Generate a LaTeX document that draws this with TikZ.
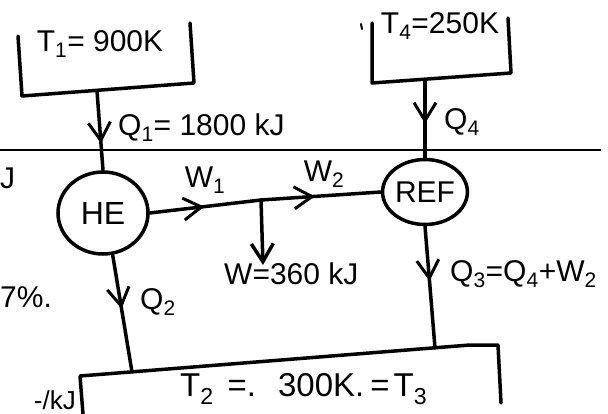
\documentclass[tikz,border=0pt]{standalone}
\usepackage{fontspec}
\setmainfont{Liberation Sans}
\usetikzlibrary{arrows.meta,decorations.markings,shapes.geometric}
\begin{document}
\begin{tikzpicture}[x=1pt,y=-1pt,
  ln/.style={line width=3.5pt, line cap=round, line join=round},
  lbl/.style={font=\fontsize{30}{34}\selectfont, inner sep=0pt},
  eng/.style={draw, ellipse, line width=3.5pt, inner sep=0pt},
  midV/.style={postaction={decorate}, decoration={markings, mark=at position #1 with {\arrow[line width=3pt]{Straight Barb[length=18pt,width=22pt]}}}},
  tipV/.style={-{Straight Barb[length=18pt,width=22pt]}}
]
\useasboundingbox (0,0) rectangle (608,414);
% page line
\draw[line width=1.5pt] (0,150) -- (601,150);
% reservoirs
\draw[ln] (18,36) -- (22,96) -- (194,83) -- (190,23);
\coordinate (t1b) at (97,91);
\node[lbl] (t1) at (100,44) {T\textsubscript{1}= 900K};
\draw[ln] (372,23) -- (372,83) -- (511,73) -- (508,18);
\draw[line width=2pt, line cap=round] (361,24) -- (362,29);
\coordinate (t4b) at (425,80);
\node[lbl] (t4) at (440,26) {T\textsubscript{4}=250K};
\draw[ln] (83,414) -- (80,376) -- (470,345) -- (498,345) -- (501,403);
\coordinate (q2e) at (132,372);
\coordinate (q3e) at (435,348);
\node[lbl, anchor=west, font=\fontsize{33}{37}\selectfont] (tb) at (180,389) {T\textsubscript{2}\hspace{14pt}=.\hspace{22pt}300K.\hspace{6pt}=\hspace{4pt}T\textsubscript{3}};
% engines
\node[eng, minimum width=90pt, minimum height=82pt, font=\fontsize{32}{36}\selectfont] (he) at (103,213) {HE};
\node[eng, minimum width=84pt, minimum height=65pt, font=\fontsize{30}{34}\selectfont] (ref) at (425,192) {REF};
\coordinate (j) at (261,200);
\coordinate (w) at (263,265);
% connectors
\draw[ln, midV=0.66] (t1b) -- (he.north);
\draw[ln, midV=0.56] (t4b) -- (ref.north);
\draw[ln, midV=0.46] (he.-77) -- (q2e);
\draw[ln, midV=0.45] (ref.south) -- (q3e);
\draw[ln, midV=0.49] (he.east) -- (j);
\draw[ln, midV=0.45] (j) -- (ref.west);
\draw[ln, tipV] (j) -- (w);
% labels
\node[lbl, anchor=west] (q1) at (118,128) {Q\textsubscript{1}= 1800 kJ};
\node[lbl, anchor=west] (q4) at (444,122) {Q\textsubscript{4}};
\node[lbl] (w1) at (205,180) {W\textsubscript{1}};
\node[lbl] (w2) at (324,174) {W\textsubscript{2}};
\node[lbl, anchor=west] (wl) at (224,274) {W=360 kJ};
\node[lbl, anchor=west] (q2) at (140,302) {Q\textsubscript{2}};
\node[lbl, anchor=west] (q3) at (450,274) {Q\textsubscript{3}=Q\textsubscript{4}+W\textsubscript{2}};
\node[lbl, anchor=west] (lj) at (0,178) {J};
\node[lbl, anchor=west] (lp) at (0,297) {7\%.};
\node[lbl, anchor=east, font=\fontsize{26}{30}\selectfont] (lk) at (76,400) {-/kJ};
\end{tikzpicture}
\end{document}
